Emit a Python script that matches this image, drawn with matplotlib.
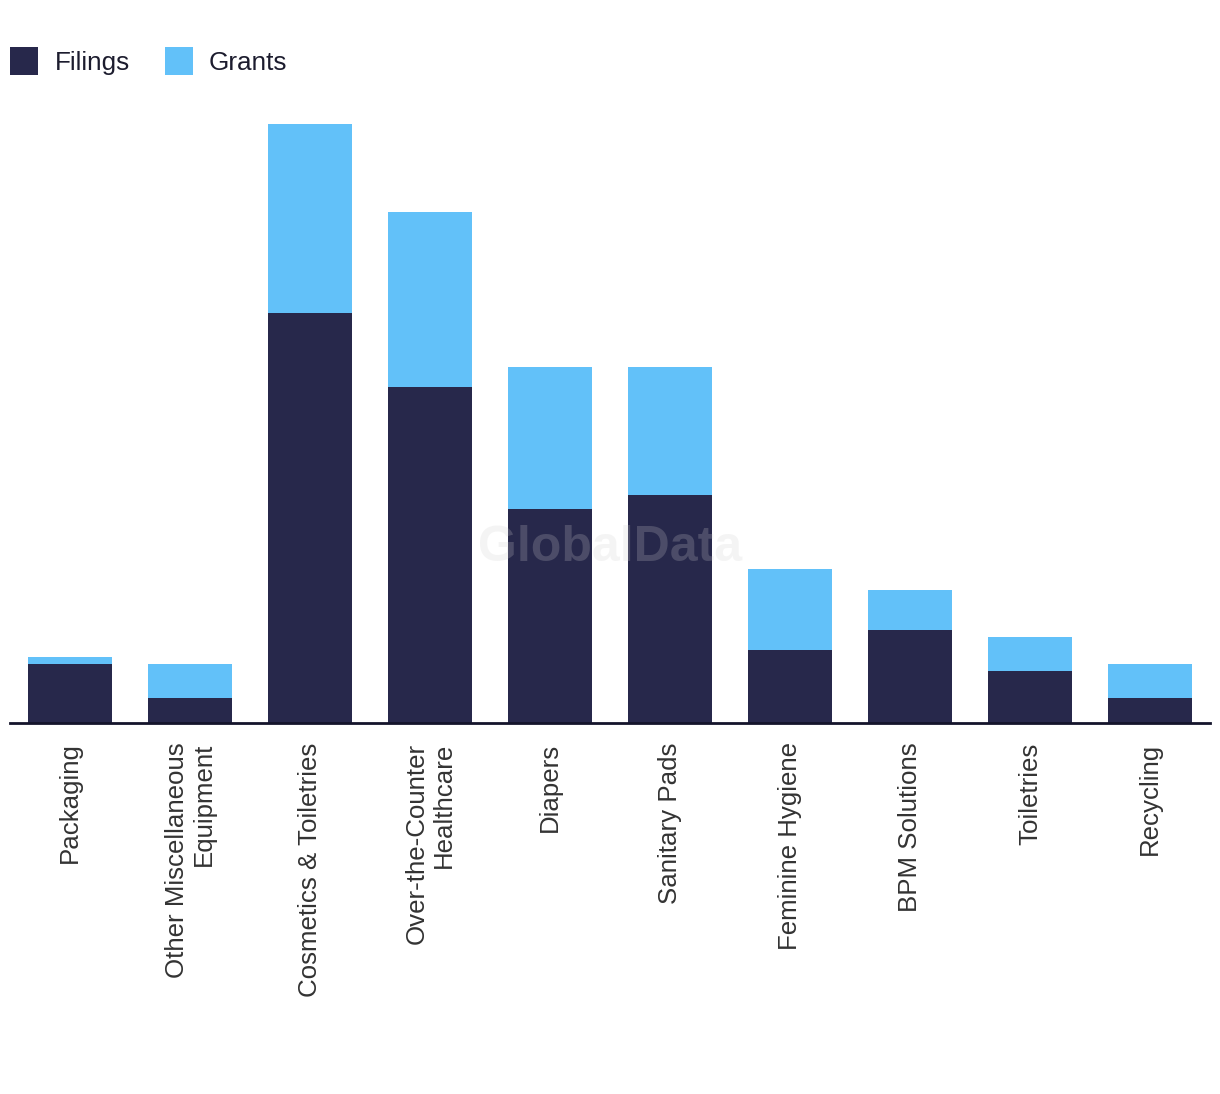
import matplotlib
matplotlib.use("Agg")
import matplotlib.pyplot as plt

categories = ["Packaging", "Other Miscellaneous\nEquipment", "Cosmetics & Toiletries",
              "Over-the-Counter\nHealthcare", "Diapers", "Sanitary Pads",
              "Feminine Hygiene", "BPM Solutions", "Toiletries", "Recycling"]
filings = [7.1, 3.0, 49.1, 40.2, 25.6, 27.3, 8.7, 11.1, 6.2, 3.0]
grants = [0.8, 4.1, 22.6, 21.0, 17.0, 15.3, 9.7, 4.8, 4.1, 4.1]

NAVY = "#27284B"
BLUE = "#62C1F9"

fig = plt.figure(figsize=(12.2, 10.94), dpi=100)
ax = fig.add_axes([10/1220, (1094-723)/1094, 1200/1220, 623/1094])

x = list(range(len(categories)))
ax.bar(x, filings, width=0.7, color=NAVY, label="Filings", zorder=2)
ax.bar(x, grants, width=0.7, bottom=filings, color=BLUE, label="Grants", zorder=2)

ax.set_xlim(-0.5, len(categories) - 0.5)
ax.set_ylim(0, 623/8.35)
for s in ["top", "right", "left"]:
    ax.spines[s].set_visible(False)
ax.spines["bottom"].set_color("#14142B")
ax.spines["bottom"].set_linewidth(2)
ax.spines["bottom"].set_zorder(3)
ax.set_yticks([])
ax.set_xticks(x)
ax.set_xticklabels(categories, rotation=90, fontsize=18.6, color="#333333",
                   family="Liberation Sans", linespacing=1.15)
for lab in ax.get_xticklabels():
    lab.set_multialignment("right")
ax.tick_params(axis="x", length=0, pad=14)

leg = fig.legend(loc="upper left", bbox_to_anchor=(0.002, 1 - 39/1094), ncol=2,
                 frameon=False, prop={"family": "Liberation Sans", "size": 18.8},
                 handlelength=1.07, handleheight=1.3, handletextpad=0.62,
                 columnspacing=1.35, borderaxespad=0.0, borderpad=0.3)
for t in leg.get_texts():
    t.set_color("#1c1c2e")

fig.text(610/1220, 1 - 548/1094, "GlobalData", ha="center", va="center",
         fontsize=36, fontweight="bold", color="#d0d0d0", alpha=0.22,
         family="Liberation Sans", zorder=10)

fig.savefig("out.png", dpi=100, facecolor="white")
